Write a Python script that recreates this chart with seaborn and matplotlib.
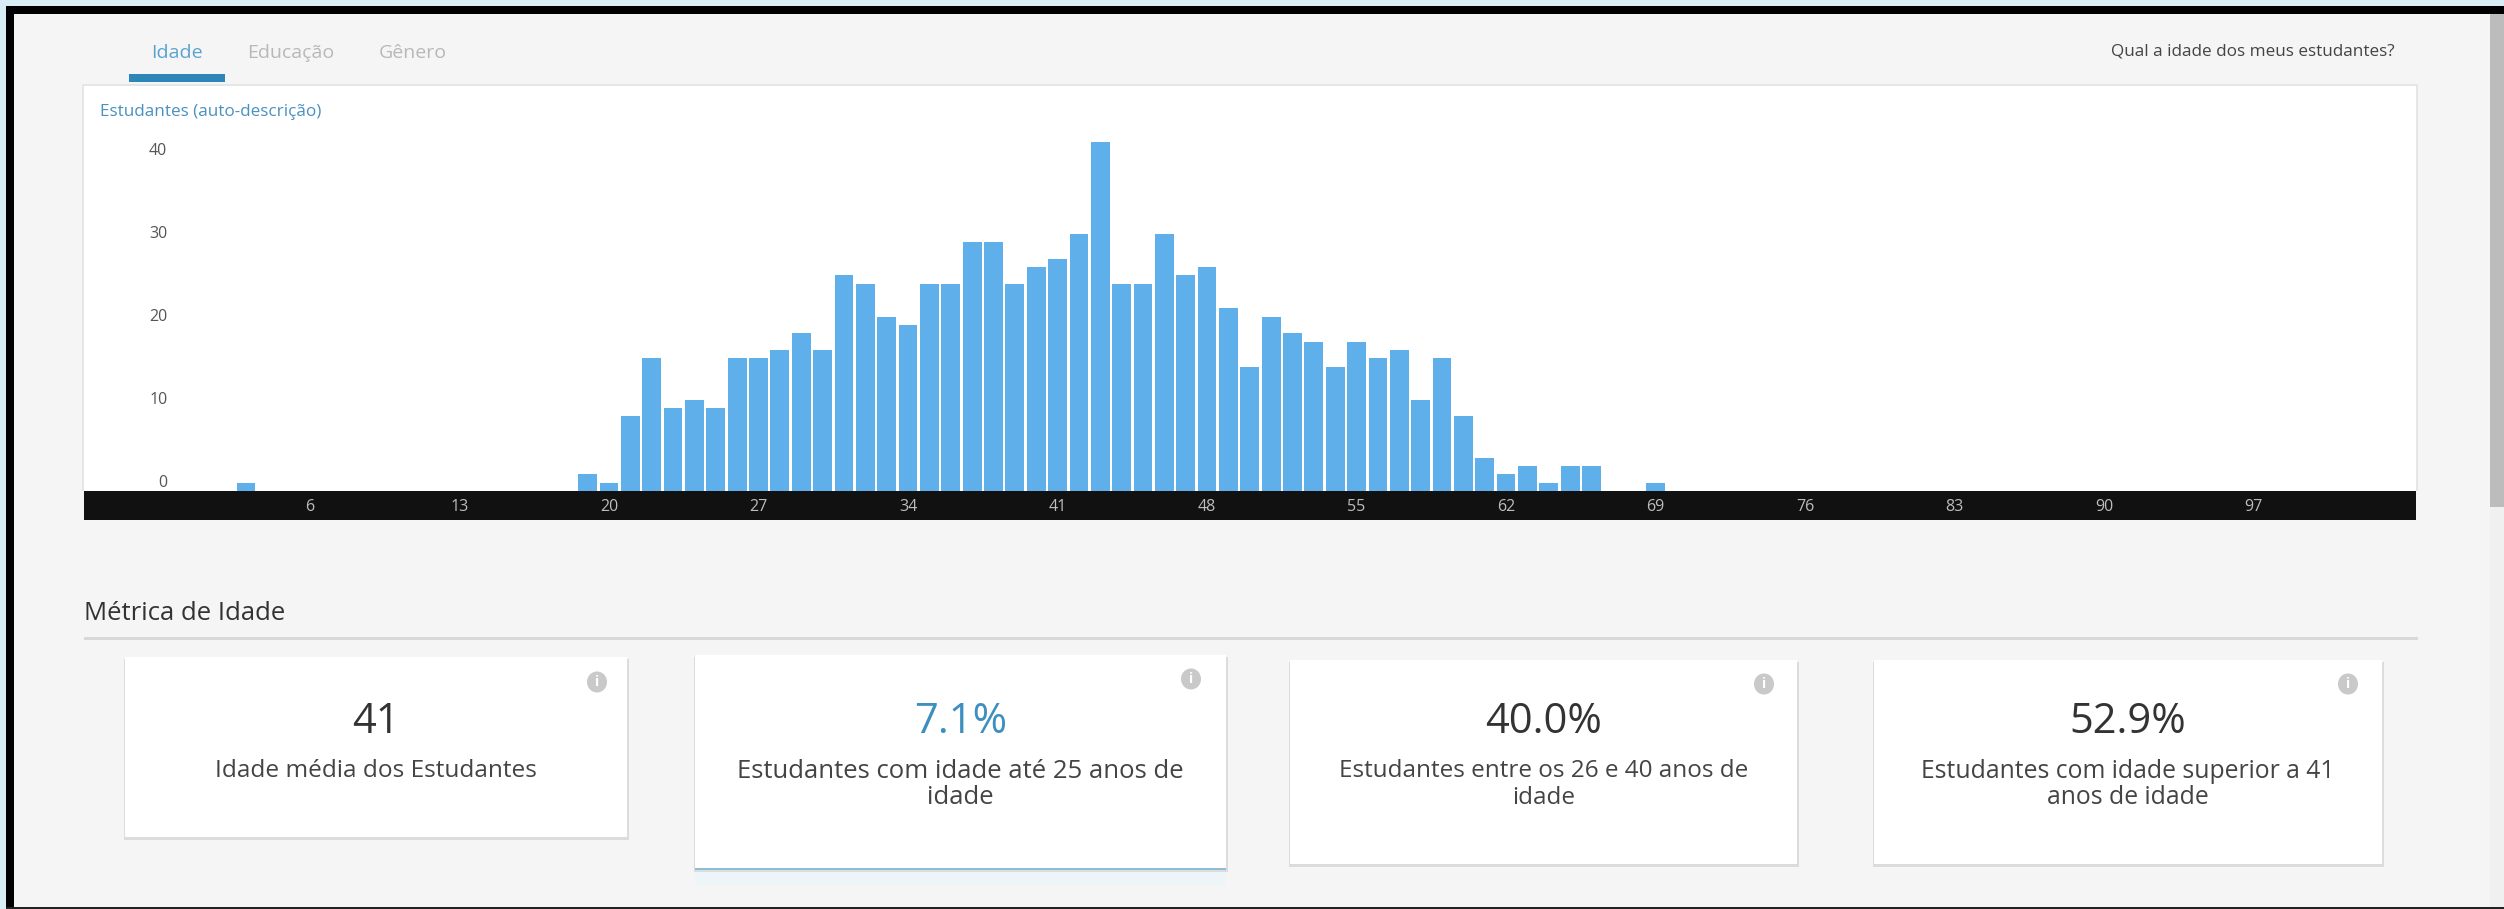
import matplotlib
matplotlib.use("Agg")
import matplotlib.pyplot as plt
from matplotlib.patches import Rectangle, Ellipse
import pandas as pd
import seaborn as sns

# data
ages = [3, 19, 20, 21, 22, 23, 24, 25, 26, 27, 28, 29, 30, 31, 32, 33, 34, 35, 36, 37,
        38, 39, 40, 41, 42, 43, 44, 45, 46, 47, 48, 49, 50, 51, 52, 53, 54, 55, 56, 57,
        58, 59, 60, 61, 62, 63, 64, 65, 66, 69]
students = [1, 2, 1, 9, 16, 10, 11, 10, 16, 16, 17, 19, 17, 26, 25, 21, 20, 25, 25, 30,
            30, 25, 27, 28, 31, 42, 25, 25, 31, 26, 27, 22, 15, 21, 19, 18, 15, 18, 16, 17,
            11, 16, 9, 4, 2, 3, 1, 3, 3, 1]
x_ticks = [6, 13, 20, 27, 34, 41, 48, 55, 62, 69, 76, 83, 90, 97]
y_ticks = [0, 10, 20, 30, 40]

tabs = ["Idade", "Educação", "Gênero"]
chart_title = "Estudantes (auto-descrição)"
question = "Qual a idade dos meus estudantes?"
section = "Métrica de Idade"
card_values = ["41", "7.1%", "40.0%", "52.9%"]
card_labels = ["Idade média dos Estudantes",
               "Estudantes com idade até 25 anos de\nidade",
               "Estudantes entre os 26 e 40 anos de\nidade",
               "Estudantes com idade superior a 41\nanos de idade"]

W, H = 2504, 909
sns.set_theme(style="white")
plt.rcParams['font.family'] = ['Open Sans', 'DejaVu Sans']

fig = plt.figure(figsize=(W / 100, H / 100), dpi=100, facecolor="#f5f5f5")

# page furniture, in pixels of the screenshot
bg = fig.add_axes([0, 0, 1, 1], zorder=0)
bg.set_xlim(0, W)
bg.set_ylim(H, 0)
bg.axis("off")


def box(x0, y0, x1, y1, color, z=1):
    bg.add_patch(Rectangle((x0, y0), x1 - x0, y1 - y0, facecolor=color, edgecolor="none", zorder=z))


def info(x, y):
    bg.add_patch(Ellipse((x, y), 20, 21, facecolor="#c9c9c9", edgecolor="none", zorder=4))
    bg.text(x, y, "i", color="white", fontsize=10, fontweight="bold", ha="center", va="center", zorder=5)


# light strip and black frame round the screenshot
box(0, 0, W, 6, "#d9edf7", 6)
box(0, 0, 6, H, "#d9edf7", 6)
box(6, 6, W, 14, "black", 6)
box(6, 6, 14, H, "black", 6)
box(6, 907, W, H, "#222222", 6)
box(2490, 14, W, 507, "#bcbcbc")
box(2490, 507, W, 907, "#f0f0f0")

# tabs
tab_x = [177, 291, 413]
tab_colors = ["#5aa3cf", "#b8b8b8", "#b8b8b8"]
for t, tx, c in zip(tabs, tab_x, tab_colors):
    bg.text(tx, 53, t, color=c, fontsize=14, ha="center", va="center")
box(129, 74, 225, 82, "#2e86b8")
bg.text(2395, 52, question, color="#444444", fontsize=12.3, ha="right", va="center")

# chart panel and black axis band
box(82, 84, 2418, 491, "#e6e6e6")
box(84, 491, 2416, 520, "#111111")

ax = fig.add_axes([84 / W, 1 - 491 / H, (2416 - 84) / W, (491 - 86) / H], zorder=2, facecolor="white")
df = pd.DataFrame({"idade": ages, "estudantes": students})
sns.barplot(data=df, x="idade", y="estudantes", native_scale=True, width=0.88,
            color="#5fb0ea", saturation=1, linewidth=0, ax=ax)
ax.set_xlim(-4.58, 104.6)
ax.set_ylim(0, 48.8)
ax.set_xlabel("")
ax.set_ylabel("")
ax.set_xticks(x_ticks)
ax.set_xticklabels([str(v) for v in x_ticks])
ax.set_yticks(y_ticks)
ax.tick_params(axis="x", length=0, pad=6, labelsize=11.5, labelcolor="#bdbdbd")
ax.tick_params(axis="y", length=0, pad=-60, labelsize=11.5, labelcolor="#555555")
for lab in ax.get_yticklabels():
    lab.set_verticalalignment("bottom")
sns.despine(ax=ax, left=True, bottom=True, top=True, right=True)

ax.text(100, 112, chart_title, transform=bg.transData, color="#4a90c0", fontsize=12.3, va="center")
info(2393, 111)

# metric section
bg.text(84, 614, section, color="#333333", fontsize=18.5, va="center")
box(84, 637, 2418, 640, "#d8d8d8")

cards = [(125, 657, 627, 837), (695, 655, 1226, 869), (1290, 660, 1797, 864), (1874, 660, 2382, 864)]
icons = [(597, 682), (1191, 679), (1764, 684), (2348, 684)]
value_colors = ["#333333", "#3d8fc0", "#333333", "#333333"]
label_sizes = [17.6, 18.5, 17.5, 17.8]

box(695, 870, 1226, 885, "#eef5f9")
for (x0, y0, x1, y1), (ix, iy), v, lb, vc, ls in zip(cards, icons, card_values, card_labels, value_colors, label_sizes):
    box(x0 - 1, y0 + 2, x1 + 2, y1 + 3, "#dcdcdc", 2)
    box(x0, y0, x1, y1, "white", 3)
    info(ix, iy)
    cx = (x0 + x1) / 2
    bg.text(cx, 722, v, color=vc, fontsize=30, ha="center", va="center", zorder=5)
    bg.text(cx, 771, lb.split("\n")[0], color="#444444", fontsize=ls, ha="center", va="center", zorder=5)
    if "\n" in lb:
        bg.text(cx, 798, lb.split("\n")[1], color="#444444", fontsize=ls, ha="center", va="center", zorder=5)
box(695, 868, 1226, 870, "#8fbcd6", 4)

fig.savefig("out.png", dpi=100, facecolor=fig.get_facecolor())
